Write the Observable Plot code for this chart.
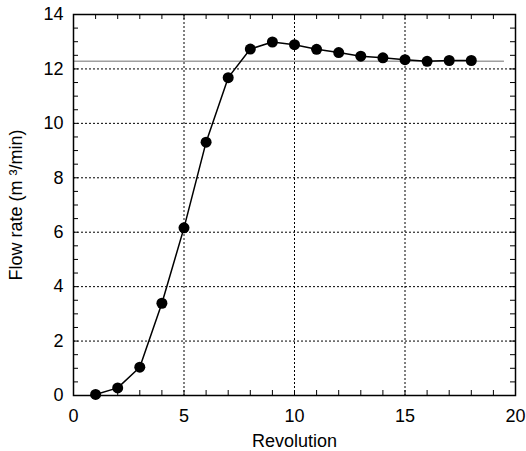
<!DOCTYPE html>
<html><head><meta charset="utf-8">
<script src="https://cdn.jsdelivr.net/npm/d3@7"></script>
<script src="https://cdn.jsdelivr.net/npm/@observablehq/plot@0.6"></script>
<style>body{margin:0;background:#fff}</style>
</head><body><div id="chart"></div>
<script>
const revolution = [1, 2, 3, 4, 5, 6, 7, 8, 9, 10, 11, 12, 13, 14, 15, 16, 17, 18];
const flowRate = [0.04, 0.28, 1.04, 3.39, 6.16, 9.31, 11.68, 12.73, 12.99, 12.89, 12.72, 12.60, 12.47, 12.41, 12.34, 12.28, 12.31, 12.31];
const steadyLevel = [12.28];
const steadySpan = [0, 19.5];
const xTicks = [0, 5, 10, 15, 20];
const yTicks = [0, 2, 4, 6, 8, 10, 12, 14];
const xMinorTicks = [0,1,2,3,4,5,6,7,8,9,10,11,12,13,14,15,16,17,18,19,20];
const yMinorTicks = [0,0.5,1,1.5,2,2.5,3,3.5,4,4.5,5,5.5,6,6.5,7,7.5,8,8.5,9,9.5,10,10.5,11,11.5,12,12.5,13,13.5,14];

const data = revolution.map((r, i) => ({r, f: flowRate[i]}));
const W = 526, H = 451, mL = 73, mR = 11, mT = 14, mB = 56;
const pw = W - mL - mR, ph = H - mT - mB, tk = 5;

const chart = Plot.plot({
  width: W, height: H,
  marginLeft: mL, marginRight: mR, marginTop: mT, marginBottom: mB,
  style: {fontFamily: "'Liberation Sans', Arial, Helvetica, sans-serif", fontSize: "18px", color: "black", background: "white"},
  x: {domain: [0, 20]},
  y: {domain: [0, 14]},
  marks: [
    Plot.gridX(xTicks.slice(1, -1), {stroke: "black", strokeOpacity: 1, strokeWidth: 1, strokeDasharray: "2,2"}),
    Plot.gridY(yTicks.slice(1, -1), {stroke: "black", strokeOpacity: 1, strokeWidth: 1, strokeDasharray: "2,2"}),
    Plot.ruleY(steadyLevel, {y: d => d, x1: steadySpan[0], x2: steadySpan[1], stroke: "#a0a0a0", strokeWidth: 1.5}),
    Plot.line(data, {x: "r", y: "f", stroke: "black", strokeWidth: 1.5}),
    Plot.dot(data, {x: "r", y: "f", r: 5.5, fill: "black", stroke: "none"}),
    Plot.frame({stroke: "black", strokeWidth: 1.5}),
    Plot.ruleX(xMinorTicks, {x: d => d, insetTop: ph - tk, stroke: "black"}),
    Plot.ruleX(xMinorTicks, {x: d => d, insetBottom: ph - tk, stroke: "black"}),
    Plot.ruleY(yMinorTicks, {y: d => d, insetRight: pw - tk, stroke: "black"}),
    Plot.ruleY(yMinorTicks, {y: d => d, insetLeft: pw - tk, stroke: "black"}),
    Plot.axisX(xTicks, {tickSize: 0, tickPadding: 14, fontSize: 18, label: "Revolution", labelAnchor: "center", labelOffset: 51, labelArrow: "none"}),
    Plot.axisY(yTicks, {tickSize: 0, tickPadding: 10, fontSize: 18, label: "Flow rate (m ³/min)", labelAnchor: "center", labelOffset: 64, labelArrow: "none"})
  ]
});
document.getElementById("chart").appendChild(chart);
</script>
</body></html>
